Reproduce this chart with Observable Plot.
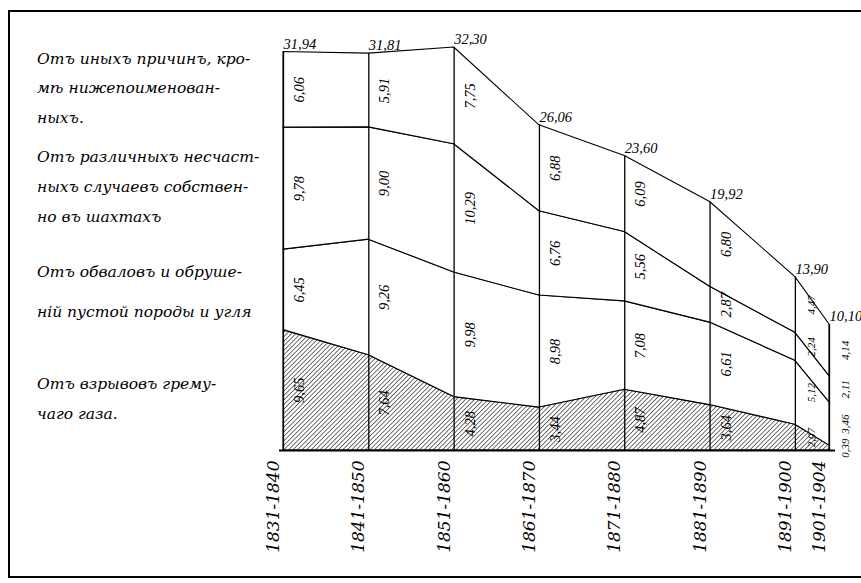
<!DOCTYPE html>
<html>
<head>
<meta charset="utf-8">
<script src="https://cdn.jsdelivr.net/npm/d3@7"></script>
<script src="https://cdn.jsdelivr.net/npm/@observablehq/plot@0.6"></script>
<style>
  body { margin: 0; background: #fff; }
  #wrap { position: relative; width: 861px; height: 583px; overflow: hidden; background: #fff; }
  #frame { position: absolute; left: 8px; top: 10px; width: 870px; height: 564px; border: 2px solid #000; pointer-events: none; }
  .leg { position: absolute; left: 37px; font-family: "DejaVu Serif", serif; font-style: italic; font-size: 15.5px; color: #000; white-space: nowrap; line-height: 1; }
  #chart { position: absolute; left: 0; top: 0; }
</style>
</head>
<body>
<div id="wrap">
  <div id="chart"></div>
  <div id="legend"></div>
  <div id="frame"></div>
</div>
<script>
// ---- data ----
const periods = ["1831-1840", "1841-1850", "1851-1860", "1861-1870", "1871-1880", "1881-1890", "1891-1900", "1901-1904"];
const years = [1840, 1850, 1860, 1870, 1880, 1890, 1900, 1904];
const explosions = [9.65, 7.64, 4.28, 3.44, 4.87, 3.64, 2.07, 0.39];
const collapses  = [6.45, 9.26, 9.98, 8.98, 7.08, 6.61, 5.12, 3.46];
const accidents  = [9.78, 9.00, 10.29, 6.76, 5.56, 2.87, 2.24, 2.11];
const other      = [6.06, 5.91, 7.75, 6.88, 6.09, 6.80, 4.47, 4.14];
const totals     = [31.94, 31.81, 32.30, 26.06, 23.60, 19.92, 13.90, 10.10];

const causes = ["explosions", "collapses", "accidents", "other"];
const seriesValues = {explosions, collapses, accidents, other};
const legendLines = [
  ["Отъ иныхъ причинъ, кро-", "мѣ нижепоименован-", "ныхъ."],
  ["Отъ различныхъ несчаст-", "ныхъ случаевъ собствен-", "но въ шахтахъ"],
  ["Отъ обваловъ и обруше-", "ній пустой породы и угля"],
  ["Отъ взрывовъ грему-", "чаго газа."]
];

// long table for stacking
const long = [];
for (const c of causes) {
  seriesValues[c].forEach((v, i) => long.push({year: years[i], period: periods[i], cause: c, value: v}));
}
const cols = periods.map((p, i) => ({period: p, year: years[i], total: totals[i]}));
const fmt = v => d3.format(".2f")(v).replace(".", ",");
const serif = "DejaVu Serif, serif";
const numFont = "Liberation Serif, serif";

const plot = Plot.plot({
  width: 861,
  height: 583,
  marginLeft: 283,
  marginRight: 32,
  marginTop: 47,
  marginBottom: 133,
  x: {domain: [1840, 1904], axis: null},
  y: {domain: [0, 32.3], axis: null},
  color: {type: "identity"},
  style: {fontFamily: serif, background: "transparent"},
  marks: [
    Plot.areaY(long, {
      x: "year", y: "value", z: "cause", order: null,
      fill: d => d.cause === "explosions" ? "url(#hatch)" : "white",
      stroke: "black", strokeWidth: 1.1
    }),
    Plot.ruleX(cols, {x: "year", y1: 0, y2: "total", stroke: "black", strokeWidth: 1.3}),
    Plot.ruleY([0], {stroke: "black", strokeWidth: 2.2, insetLeft: -4, insetRight: -6}),
    Plot.text(long, Plot.stackY({
      x: "year", y: "value", z: "cause", order: null,
      text: d => fmt(d.value), rotate: -90,
      dx: 16,
      fontSize: d => d.year >= 1900 ? 11 : 14.5,
      fontFamily: numFont, fontStyle: "italic", fill: "black"
    })),
    Plot.text(cols, {
      x: "year", y: "total", text: d => fmt(d.total), textAnchor: "start",
      dy: -8, dx: 0, fontSize: 14.5, fontFamily: numFont, fontStyle: "italic", fill: "black"
    }),
    Plot.text(cols, {
      x: "year", y: 0, text: "period", rotate: -90, textAnchor: "end",
      dy: 10, dx: -10, fontSize: 17, fontStyle: "italic", fill: "black"
    })
  ]
});

// hatch pattern for the explosion layer
const svg = d3.select(plot);
const defs = svg.insert("defs", ":first-child");
const pat = defs.append("pattern")
  .attr("id", "hatch").attr("patternUnits", "userSpaceOnUse")
  .attr("width", 3.2).attr("height", 3.2)
  .attr("patternTransform", "rotate(45)");
pat.append("rect").attr("width", 3.2).attr("height", 3.2).attr("fill", "white");
pat.append("line").attr("x1", 0).attr("y1", 0).attr("x2", 0).attr("y2", 3.2)
  .attr("stroke", "black").attr("stroke-width", 1.1);

document.getElementById("chart").appendChild(plot);

// legend on the left
const legendTops = [[52, 81, 111], [150, 180, 210], [265, 305], [377, 407]];
const legend = document.getElementById("legend");
legendLines.forEach((lines, k) => {
  lines.forEach((t, j) => {
    const el = document.createElement("div");
    el.className = "leg";
    el.style.top = legendTops[k][j] + "px";
    el.textContent = t;
    legend.appendChild(el);
  });
});
</script>
</body>
</html>
